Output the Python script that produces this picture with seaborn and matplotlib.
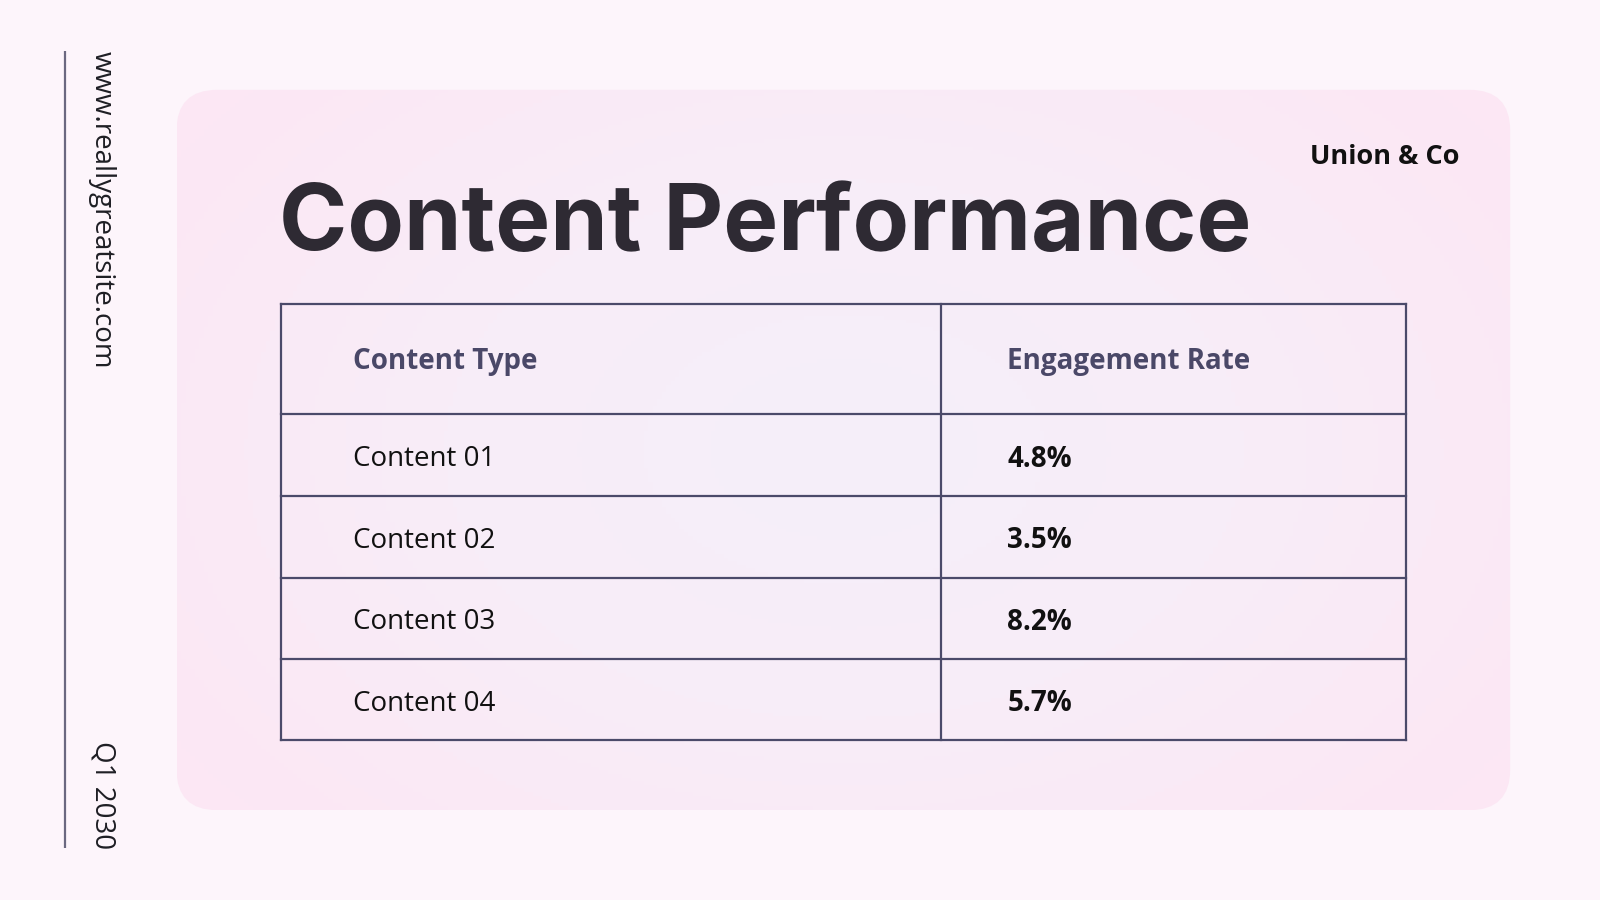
import numpy as np
import matplotlib
matplotlib.use("Agg")
import matplotlib.pyplot as plt
from matplotlib.patches import FancyBboxPatch
from matplotlib.colors import LinearSegmentedColormap
import seaborn as sns

# data
content_types = ["Content 01", "Content 02", "Content 03", "Content 04"]
engagement_rates = [4.8, 3.5, 8.2, 5.7]
col_headers = ["Content Type", "Engagement Rate"]
title = "Content Performance"
brand = "Union & Co"
site = "www.reallygreatsite.com"
period = "Q1 2030"

sns.set_theme(style="white")
plt.rcParams["font.family"] = ["Open Sans", "DejaVu Sans"]

W, H = 1568, 882
fig = plt.figure(figsize=(16, 9), dpi=100, facecolor="#fdf5fb")
ax = fig.add_axes([0, 0, 1, 1])
ax.set_xlim(0, W)
ax.set_ylim(H, 0)
ax.axis("off")
ax.set_facecolor("#fdf5fb")

# side line + rotated texts
ax.plot([64, 64], [50, 831], color="#6b6880", lw=1.6, solid_capstyle="butt")
ax.text(100, 50, site, rotation=-90, ha="center", va="top", fontsize=20,
        color="#1e1e24")
ax.text(100, 832, period, rotation=-90, ha="center", va="bottom", fontsize=20,
        color="#1e1e24")

# card with soft gradient
card = FancyBboxPatch((173, 88), 1307, 706, boxstyle="round,pad=0,rounding_size=40",
                      fc="none", ec="none")
ax.add_patch(card)
yy, xx = np.mgrid[0:1:200j, 0:1:300j]
r = np.sqrt(((xx - 0.5) / 0.6) ** 2 + ((yy - 0.5) / 0.75) ** 2)
grad = np.clip(r, 0, 1)
cmap = LinearSegmentedColormap.from_list("card", ["#f5effa", "#f8edf8", "#fce7f4"])
img = ax.imshow(grad, cmap=cmap, extent=(173, 1480, 794, 88), aspect="auto",
                vmin=0, vmax=1, zorder=0)
img.set_clip_path(card)

# title + brand
ax.text(273, 245, title, fontsize=66.5, fontweight="bold", family=["Inter", "DejaVu Sans"],
        color="#2e2a33", ha="left", va="baseline")
ax.text(1430, 154, brand, fontsize=19.5, fontweight="bold", color="#111111",
        ha="right", va="center")

# table
line_c = "#4b4a6a"
x0, xm, x1 = 275, 922, 1378
top, header_h, row_h = 298, 108, 80
bounds = [top, top + header_h] + [top + header_h + row_h * (i + 1) for i in range(len(content_types))]
bounds[-1] -= 1
for yb in bounds:
    ax.plot([x0, x1], [yb, yb], color=line_c, lw=1.6, solid_capstyle="projecting")
for xv in (x0, xm, x1):
    ax.plot([xv, xv], [bounds[0], bounds[-1]], color=line_c, lw=1.6, solid_capstyle="projecting")

pad = 71
hy = (bounds[0] + bounds[1]) / 2 + 2
ax.text(x0 + pad, hy, col_headers[0], fontsize=20, fontweight="bold", color="#4a4868",
        ha="left", va="center")
ax.text(xm + 65, hy, col_headers[1], fontsize=20, fontweight="bold", color="#4a4868",
        ha="left", va="center")
for i, (name, val) in enumerate(zip(content_types, engagement_rates)):
    cy = (bounds[i + 1] + bounds[i + 2]) / 2 + 4
    ax.text(x0 + pad, cy, name, fontsize=20, color="#111111", ha="left", va="center")
    ax.text(xm + 65, cy, f"{val:.1f}%", fontsize=20, fontweight="bold", color="#111111",
            ha="left", va="center")

fig.savefig("out.png", dpi=100, facecolor=fig.get_facecolor())
